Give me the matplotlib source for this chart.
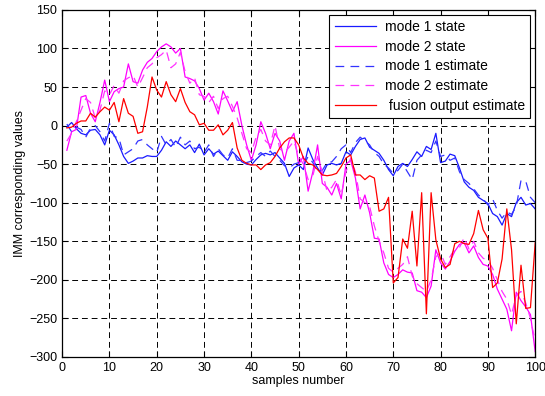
import numpy as np
import matplotlib
matplotlib.use("Agg")
import matplotlib.pyplot as plt

plt.rcParams['font.family'] = ['Liberation Sans', 'DejaVu Sans']

samples = np.arange(1, 101)

mode1_state = [-2, 4, -4, -10, -12, -6, -5, -12, -25, -6,
               -12, -25, -40, -49, -46, -42, -42, -39, -40, -40,
               -32, -21, -27, -20, -25, -30, -25, -35, -24, -38,
               -30, -37, -33, -39, -45, -34, -40, -47, -50, -51,
               -44, -38, -36, -38, -35, -42, -49, -66, -55, -51,
               -57, -29, -44, -55, -64, -51, -49, -51, -49, -34,
               -38, -27, -18, -16, -28, -32, -36, -45, -57, -65,
               -53, -49, -53, -44, -34, -40, -27, -31, -10, -48,
               -46, -37, -39, -55, -73, -80, -84, -93, -97, -101,
               -114, -118, -129, -114, -118, -100, -93, -103, -101, -108]

mode2_state = [-32, -8, -5, 37, 39, 16, 5, 30, 59, 31,
               44, 48, 50, 80, 57, 55, 72, 82, 87, 96,
               102, 106, 102, 94, 100, 63, 61, 58, 48, 33,
               42, 31, 15, 45, 32, 18, 31, 0, -25, -45,
               -25, 5, -10, -30, -10, -20, -45, -20, -10, -50,
               -40, -85, -60, -25, -75, -80, -90, -75, -95, -50,
               -45, -68, -108, -90, -113, -146, -147, -178, -193, -197,
               -193, -187, -190, -191, -214, -216, -223, -208, -161, -178,
               -186, -176, -163, -154, -152, -165, -156, -171, -180, -182,
               -193, -212, -225, -238, -266, -216, -227, -235, -245, -293]

mode1_est = [2, -8, -2, -5, -15, -3, 0, -8, -20, 3,
             -14, -16, -38, -34, -30, -20, -18, -25, -30, -35,
             -14, -25, -18, -28, -15, -25, -20, -30, -28, -35,
             -25, -40, -30, -38, -42, -30, -45, -45, -48, -46,
             -40, -35, -40, -33, -40, -45, -52, -55, -50, -48,
             -52, -40, -48, -60, -58, -48, -47, -40, -30, -25,
             -35, -22, -15, -20, -25, -35, -40, -50, -55, -62,
             -58, -50, -60, -70, -45, -38, -32, -35, -20, -40,
             -38, -45, -42, -60, -70, -75, -82, -90, -95, -103,
             -95, -110, -120, -112, -115, -105, -71, -72, -93, -100]

mode2_est = [-20, -10, 5, 20, 35, 30, 10, 20, 45, 40,
             52, 42, 58, 62, 65, 50, 62, 75, 80, 88,
             92, 98, 75, 80, 95, 70, 55, 62, 40, 38,
             30, 38, 22, 35, 38, 25, 10, -10, -30, -35,
             -15, -5, -20, -25, 0, -30, -35, -28, -20, -40,
             -50, -70, -65, -40, -60, -85, -80, -70, -90, -60,
             -42, -60, -95, -100, -105, -130, -150, -165, -185, -190,
             -185, -180, -170, -195, -205, -210, -215, -200, -170, -165,
             -180, -170, -160, -158, -145, -160, -150, -165, -172, -175,
             -185, -200, -215, -225, -245, -220, -215, -230, -250, -280]

fusion = [-3, -2, 3, 6, 6, 16, 11, 18, 24, 20,
          30, 5, 35, 16, 12, -10, -8, 24, 63, 46,
          37, 57, 40, 31, 48, 30, 18, 14, 1, 3,
          -6, -6, 1, -12, -6, 4, -29, -45, -49, -51,
          -51, -57, -51, -48, -40, -29, -21, -16, -16, -25,
          -42, -49, -51, -57, -64, -65, -64, -62, -53, -42,
          -38, -64, -64, -70, -65, -68, -111, -108, -93, -204,
          -197, -147, -159, -111, -182, -87, -244, -87, -148, -173,
          -184, -180, -153, -150, -153, -154, -140, -110, -135, -146,
          -210, -204, -173, -108, -161, -257, -181, -237, -236, -152]

fig = plt.figure(figsize=(5.45, 3.96), dpi=100)
ax = fig.add_axes([0.114, 0.0985, 0.868, 0.8765])

lw = 0.9
ax.plot(samples, mode1_state, color='#1a1aff', lw=lw, label='mode 1 state')
ax.plot(samples, mode2_state, color='#ff00ff', lw=lw, label='mode 2 state')
ax.plot(samples, mode1_est, color='#3333ff', lw=lw, ls=(0, (7, 5)), label='mode 1 estimate')
ax.plot(samples, mode2_est, color='#ff33ff', lw=lw, ls=(0, (7, 5)), label='mode 2 estimate')
ax.plot(samples, fusion, color='#ff0000', lw=lw, label=' fusion output estimate')

ax.set_xlim(0, 100)
ax.set_ylim(-300, 150)
ax.set_xticks(range(0, 101, 10))
ax.set_yticks(range(-300, 151, 50))
ax.grid(True, color='black', ls=(0, (6, 4)), lw=0.7)
ax.tick_params(direction='in', length=4, labelsize=9, top=True, right=True,
               labeltop=False, labelright=False)
for s in ax.spines.values():
    s.set_linewidth(0.9)

ax.set_xlabel('samples number', fontsize=9, labelpad=1)
ax.set_ylabel('IMM corresponding values', fontsize=9, labelpad=2)

leg = ax.legend(loc='upper right', fontsize=10, fancybox=False, framealpha=1,
                edgecolor='black', handlelength=3.0, borderaxespad=0.35,
                labelspacing=0.4, handletextpad=0.6, borderpad=0.4)
leg.get_frame().set_linewidth(0.8)

fig.savefig('out.png', dpi=100)
